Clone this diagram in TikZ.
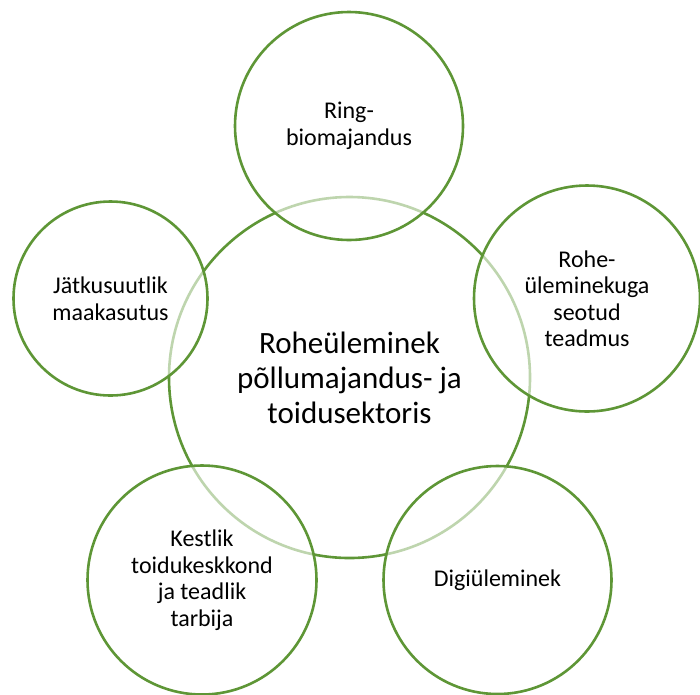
\documentclass[tikz,border=0pt]{standalone}
\usepackage{fontspec}
\setmainfont{Carlito}
\definecolor{leafgreen}{RGB}{94,150,54}
\begin{document}
\begin{tikzpicture}[x=1pt,y=-1pt,
    hub/.style={circle,draw=leafgreen,line width=2.6pt,minimum size=361pt,
      inner sep=0pt,align=center,font=\fontsize{31}{35}\selectfont},
    topic/.style={circle,draw=leafgreen,line width=2.6pt,fill=white,
      fill opacity=0.6,text opacity=1,inner sep=0pt,align=center,
      font=\fontsize{24}{26.5}\selectfont}]
  \useasboundingbox (0,0) rectangle (700,694);
  % centre circle
  \node[hub] (centre) at (349.5,377.5) {Roheüleminek\\põllumajandus- ja\\toidusektoris};
  % surrounding circles
  \node[topic,minimum size=228pt] (ring)   at (349,126)   {Ring-\\biomajandus};
  \node[topic,minimum size=226pt] (teadmus) at (587,298.5) {Rohe-\\üleminekuga\\seotud\\teadmus};
  \node[topic,minimum size=228pt] (digi)   at (497.5,580) {Digiüleminek};
  \node[topic,minimum size=229pt] (toit)   at (202,580)   {Kestlik\\toidukeskkond\\ja teadlik\\tarbija};
  \node[topic,minimum size=194pt] (maa)    at (110.5,298.5) {Jätkusuutlik\\maakasutus};
\end{tikzpicture}
\end{document}
